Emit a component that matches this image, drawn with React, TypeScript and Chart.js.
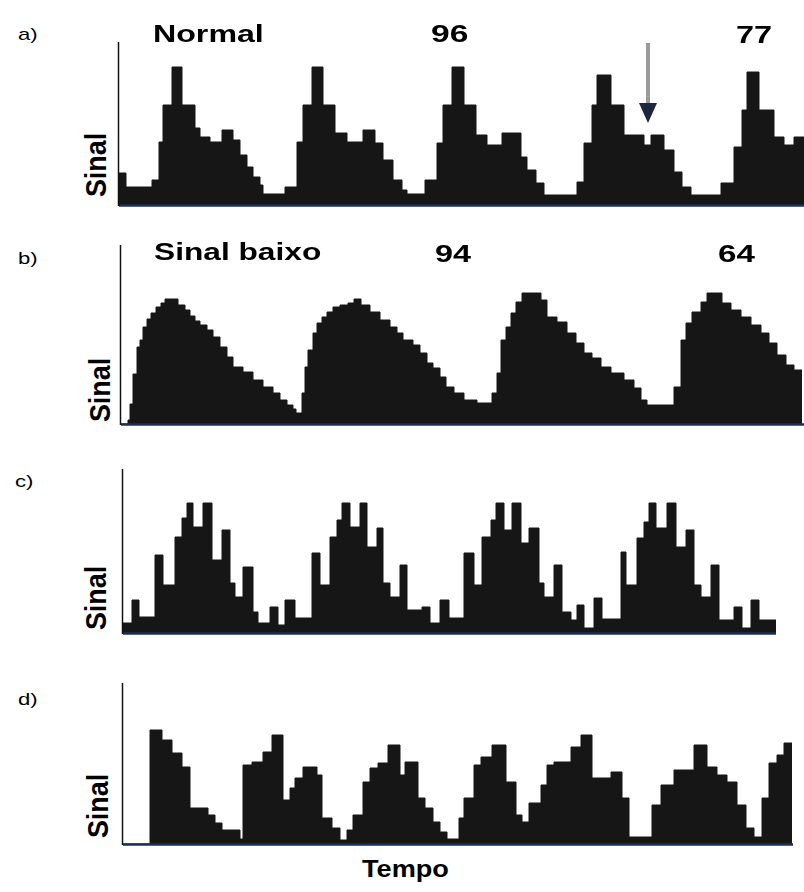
import React, { useEffect, useRef } from "react";
import { Chart, registerables } from "chart.js";
Chart.register(...registerables);

// ---- Panel a) Normal : time (samples) and signal (amplitude) ----
const aTime = [0,7,33,40,44,53,63,76,81,91,103,114,121,128,134,141,144,166,178,184,193,204,216,228,244,256,264,274,283,288,306,318,324,333,345,357,368,383,402,408,417,425,458,465,473,478,492,505,525,532,545,555,563,572,602,615,623,628,640,655,665,675,685];
const aSignal = [32,18,25,63,100,138,100,77,68,63,75,65,50,38,28,20,11,18,63,100,138,100,72,63,75,62,45,25,15,11,25,62,100,138,100,70,60,72,48,35,22,10,23,62,100,130,100,70,60,70,55,33,18,10,22,58,95,133,95,68,60,68,68];
const aArrow = { time: 529, tip: 82, head: 102, top: 162 };

// ---- Panel b) Sinal baixo ----
const bTime = [0,7,9,12,16,19,22,26,30,35,40,44,57,64,69,74,79,86,92,99,106,112,122,132,142,152,159,166,172,175,181,184,187,192,196,201,206,212,219,227,233,240,249,259,269,276,282,292,299,306,312,319,325,333,343,356,371,376,380,385,390,395,401,420,426,436,446,455,463,471,480,490,503,513,520,526,553,560,565,571,580,586,601,610,620,630,640,648,656,665,673,681];
const bSignal = [0,4,20,50,77,84,97,105,111,117,121,125,119,114,108,103,99,94,87,77,67,57,52,44,37,31,24,19,15,11,31,57,74,91,101,107,112,117,119,121,125,119,112,104,97,91,84,79,71,61,56,47,37,31,24,21,31,51,84,97,111,122,131,124,107,102,91,81,71,66,57,51,44,36,24,19,37,84,101,112,122,131,121,114,107,99,91,81,69,59,54,54];

// ---- Panel c) ----
const cTime = [0,9,16,32,40,52,59,64,70,80,89,99,107,112,120,130,135,147,155,162,172,189,197,207,214,219,227,237,244,254,260,267,277,284,299,307,317,326,341,351,359,368,373,381,389,398,406,416,421,431,439,448,454,461,471,479,498,503,514,521,526,533,544,553,563,571,578,588,596,611,619,628,636,653];
const cSignal = [10,33,16,78,48,96,115,130,106,130,73,103,50,36,66,21,10,26,8,33,15,80,48,96,113,130,106,130,86,105,50,36,68,23,26,10,33,15,80,48,96,113,130,103,130,90,105,50,36,68,21,13,28,5,35,14,81,48,95,111,130,105,130,86,103,48,36,68,13,26,5,33,13,13];

// ---- Panel d) ----
const dTime = [0,27,39,49,59,67,85,92,99,117,120,129,140,149,160,167,172,180,194,199,209,217,224,230,240,247,255,265,277,282,295,302,310,317,324,336,341,351,358,369,383,393,399,406,418,424,431,448,458,469,488,499,506,529,538,551,571,584,594,604,614,623,631,639,646,654,661,669];
const dSignal = [0,114,104,91,77,36,29,21,14,5,79,82,92,109,44,56,66,77,69,26,16,4,14,29,62,76,81,99,69,82,46,36,22,12,5,26,46,79,87,99,62,29,22,41,59,79,82,97,109,66,72,46,7,39,59,74,99,77,69,62,39,16,7,46,81,89,101,101];

const FONT = '"Liberation Sans", Arial, Helvetica, sans-serif';
const FILL = "#161616";
const PAD = 3;

type Arrow = { time: number; tip: number; head: number; top: number };
type PanelProps = {
  time: number[]; signal: number[]; tMax: number; sMax: number;
  left: number; top: number; right: number; bottom: number; arrow?: Arrow;
};

function Panel({ time, signal, tMax, sMax, left, top, right, bottom, arrow }: PanelProps) {
  const ref = useRef<HTMLCanvasElement>(null);
  const w = right - left + PAD;
  const h = bottom - top + PAD + 1;
  useEffect(() => {
    const pts = time.map((t, i) => ({ x: t, y: signal[i] }));
    const axisPlugin = {
      id: "axes",
      afterDatasetsDraw(chart: any) {
        const { ctx, chartArea } = chart;
        ctx.save();
        ctx.strokeStyle = "#1c2f58";
        ctx.lineWidth = 2.5;
        ctx.beginPath();
        ctx.moveTo(chartArea.left, chartArea.bottom + 0.5);
        ctx.lineTo(chartArea.right, chartArea.bottom + 0.5);
        ctx.stroke();
        ctx.strokeStyle = "#111";
        ctx.lineWidth = 1.5;
        ctx.beginPath();
        ctx.moveTo(chartArea.left - 0.5, chartArea.top);
        ctx.lineTo(chartArea.left - 0.5, chartArea.bottom + 1);
        ctx.stroke();
        if (arrow) {
          const xs = chart.scales.x, ys = chart.scales.y;
          const ax = xs.getPixelForValue(arrow.time);
          const yTop = ys.getPixelForValue(arrow.top);
          const yHead = ys.getPixelForValue(arrow.head);
          const yTip = ys.getPixelForValue(arrow.tip);
          ctx.fillStyle = "#9a9a9a";
          ctx.fillRect(ax - 2, yTop, 4, yHead - yTop);
          ctx.fillStyle = "#1d2540";
          ctx.beginPath();
          ctx.moveTo(ax - 9, yHead);
          ctx.lineTo(ax + 9, yHead);
          ctx.lineTo(ax, yTip);
          ctx.closePath();
          ctx.fill();
        }
        ctx.restore();
      },
    };
    const chart = new Chart(ref.current as HTMLCanvasElement, {
      type: "line",
      data: {
        datasets: [{
          data: pts, stepped: "before", fill: "origin",
          backgroundColor: FILL, borderColor: FILL, borderWidth: 1, pointRadius: 0,
        }],
      },
      options: {
        animation: false, responsive: false, events: [],
        layout: { padding: { left: PAD, top: 0, right: 0, bottom: PAD + 1 } },
        plugins: { legend: { display: false }, tooltip: { enabled: false } },
        scales: {
          x: { type: "linear", min: 0, max: tMax, display: false },
          y: { type: "linear", min: 0, max: sMax, display: false },
        },
      },
      plugins: [axisPlugin],
    } as any);
    return () => chart.destroy();
  }, []);
  return (
    <canvas ref={ref} width={w} height={h}
      style={{ position: "absolute", left: left - PAD, top, width: w, height: h }} />
  );
}

function Label({ text, left, top, size, bold, sx }: { text: string; left: number; top: number; size: number; bold?: boolean; sx: number }) {
  return (
    <div style={{
      position: "absolute", left, top, fontSize: size, fontWeight: bold ? 700 : 400,
      fontFamily: FONT, lineHeight: 1, whiteSpace: "nowrap", color: "#000",
      transform: `scaleX(${sx})`, transformOrigin: "left top",
    }}>{text}</div>
  );
}

function YTitle({ cx, cy }: { cx: number; cy: number }) {
  return (
    <div style={{
      position: "absolute", left: cx, top: cy, fontSize: 24, fontWeight: 700,
      fontFamily: FONT, lineHeight: 1, whiteSpace: "nowrap", color: "#000",
      transform: "translate(-50%, -50%) rotate(-90deg) scale(1.12, 1.25)",
    }}>Sinal</div>
  );
}

export default function App() {
  return (
    <div style={{ position: "absolute", left: 0, top: 0, width: 804, height: 892, background: "#fff", overflow: "hidden" }}>
      <Panel time={aTime} signal={aSignal} tMax={685} sMax={163} left={119} top={42} right={804} bottom={205} arrow={aArrow} />
      <Panel time={bTime} signal={bSignal} tMax={683} sMax={179} left={121} top={245} right={804} bottom={424} />
      <Panel time={cTime} signal={cSignal} tMax={653} sMax={164} left={123} top={469} right={776} bottom={633} />
      <Panel time={dTime} signal={dSignal} tMax={670} sMax={161} left={123} top={683} right={793} bottom={844} />

      <Label text="a)" left={18} top={26} size={17} sx={1.3} />
      <Label text="Normal" left={153} top={22} size={24} bold sx={1.34} />
      <Label text="96" left={431} top={22} size={24} bold sx={1.4} />
      <Label text="77" left={736} top={23} size={24} bold sx={1.35} />

      <Label text="b)" left={18} top={250} size={17} sx={1.3} />
      <Label text="Sinal baixo" left={154} top={240} size={24} bold sx={1.32} />
      <Label text="94" left={435} top={242} size={24} bold sx={1.35} />
      <Label text="64" left={718} top={242} size={24} bold sx={1.38} />

      <Label text="c)" left={15} top={473} size={17} sx={1.3} />
      <Label text="d)" left={18} top={691} size={17} sx={1.3} />

      <YTitle cx={96} cy={165} />
      <YTitle cx={100} cy={390} />
      <YTitle cx={96} cy={598} />
      <YTitle cx={98} cy={806} />

      <Label text="Tempo" left={362} top={857} size={24} bold sx={1.13} />
    </div>
  );
}
